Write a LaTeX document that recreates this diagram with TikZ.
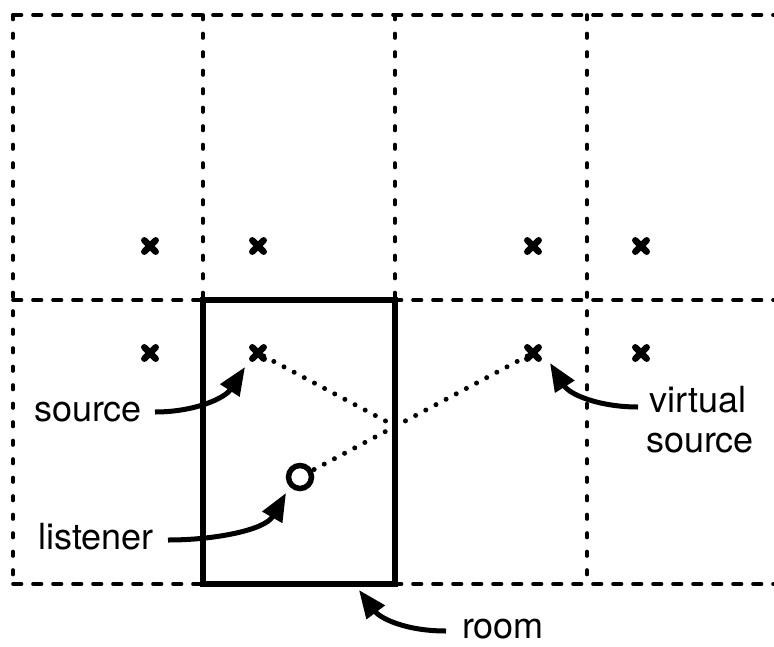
\documentclass[tikz,border=0pt]{standalone}
\usepackage{fontspec}
\setmainfont{TeX Gyre Heros}
\usetikzlibrary{arrows.meta}
\begin{document}
\begin{tikzpicture}[x=1pt,y=-1pt,
  grid/.style={line width=3.6pt, line cap=round},
  hgrid/.style={grid, dash pattern=on 8.5pt off 11.5pt},
  vgrid/.style={grid, dash pattern=on 4.5pt off 14pt},
  wall/.style={draw, line width=5.5pt, minimum width=192pt, minimum height=284pt, inner sep=0pt},
  xmark/.style={inner sep=0pt, minimum size=11pt},
  xstroke/.style={line width=6.5pt, line cap=round},
  ray/.style={line width=5pt, line cap=round, dash pattern=on 0pt off 11.5pt},
  callout/.style={line width=5pt, -{Triangle[length=28pt,width=22pt]}},
  lab/.style={font=\fontsize{36}{40}\selectfont, inner sep=0pt, anchor=base}]
\useasboundingbox (0,0) rectangle (774,646);
% grid of image rooms
\foreach \y in {15,300,584} \draw[hgrid] (13,\y) -- (774,\y);
\foreach \x in {13,203,395,587} \draw[vgrid] (\x,15) -- (\x,584);
% room
\node[wall] (room) at (299,442) {};
% source and image sources
\node[xmark] (i1) at (150,246) {};
\node[xmark] (i2) at (258,246) {};
\node[xmark] (i3) at (533,246) {};
\node[xmark] (i4) at (641,246) {};
\node[xmark] (i5) at (150,353) {};
\node[xmark] (src) at (258,353) {};
\node[xmark] (vsrc) at (533,353) {};
\node[xmark] (i8) at (641,353) {};
\foreach \n in {i1,i2,i3,i4,i5,src,vsrc,i8}
  \draw[xstroke] (\n.north west) -- (\n.south east) (\n.north east) -- (\n.south west);
% listener
\node[circle, draw, line width=5.5pt, minimum size=23pt, inner sep=0pt] (lis) at (300,477) {};
% rays
\coordinate (refl) at (395,426);
\draw[ray] (src) -- (refl);
\draw[ray] (vsrc) -- (lis);
% labels
\node[lab] (lsrc) at (88,421) {source};
\node[lab] (llis) at (96,549) {listener};
\node[lab] (lvir1) at (698,412) {virtual};
\node[lab] (lvir2) at (700,452) {source};
\node[lab] (lroom) at (503,638) {room};
% callouts
\coordinate (t1) at (155,412);
\coordinate (h1) at (245,367);
\coordinate (t2) at (168,540);
\coordinate (h2) at (286,493);
\coordinate (t3) at (638,407);
\coordinate (h3) at (550,363);
\coordinate (t4) at (446,631);
\coordinate (h4) at (359,590);
\draw[callout] (t1) .. controls (195,412) and (225,398) .. (h1);
\draw[callout] (t2) .. controls (215,540) and (265,530) .. (h2);
\draw[callout] (t3) .. controls (600,407) and (570,395) .. (h3);
\draw[callout] (t4) .. controls (405,631) and (380,618) .. (h4);
\end{tikzpicture}
\end{document}
